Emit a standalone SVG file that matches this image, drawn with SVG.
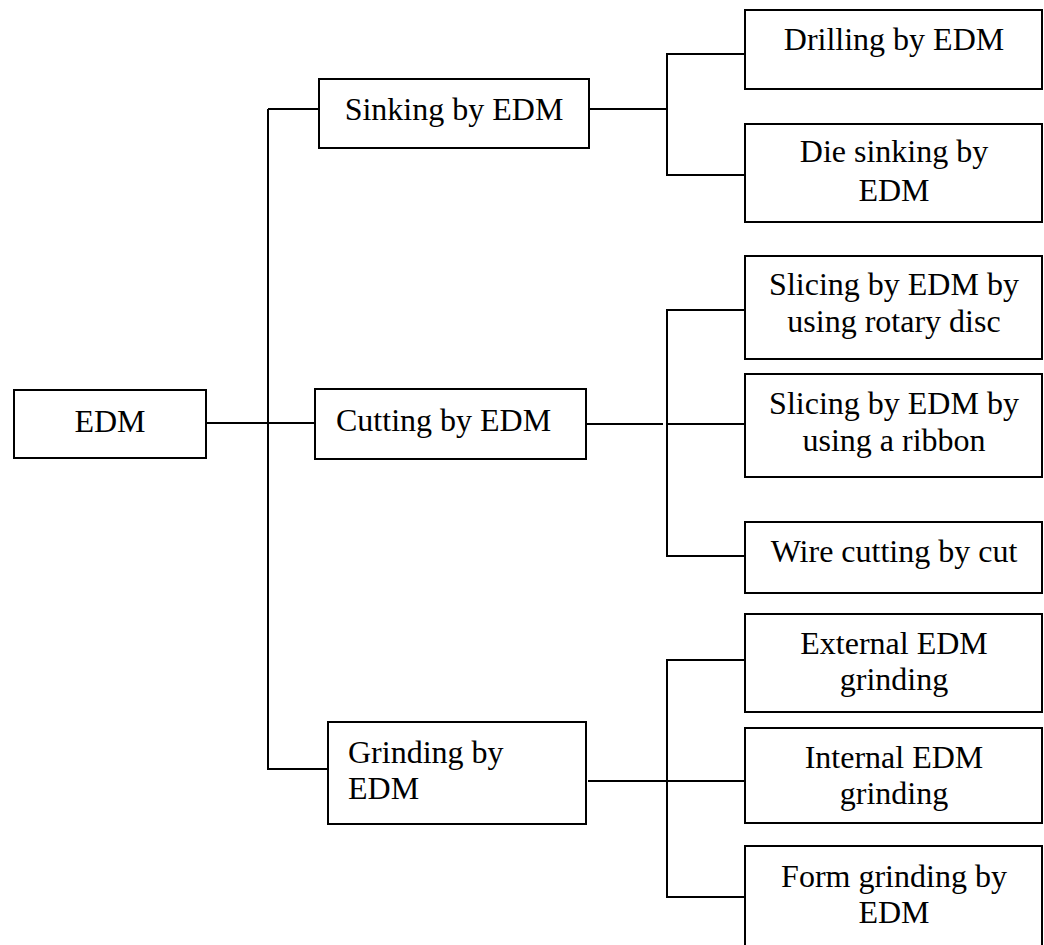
<svg xmlns="http://www.w3.org/2000/svg" width="1044" height="945" viewBox="0 0 1044 945">
<style>
.box{fill:#fff;stroke:#000;stroke-width:2}
.ln{fill:none;stroke:#000;stroke-width:2}
text{font-family:"Liberation Serif","Times New Roman",serif;font-size:32px;fill:#000}
.c{text-anchor:middle}
</style>
<rect width="1044" height="945" fill="#fff"/>
<g id="connectors">
<path class="ln" d="M206,423 H315"/>
<path class="ln" d="M268,109 V769 H333"/>
<path class="ln" d="M268,109 H319"/>
<path class="ln" d="M589,109 H667"/>
<path class="ln" d="M745,54 H667 V175 H745"/>
<path class="ln" d="M586,424 H663"/>
<path class="ln" d="M745,310 H667 V556 H745"/>
<path class="ln" d="M667,424 H745"/>
<path class="ln" d="M588,781 H745"/>
<path class="ln" d="M745,660 H667 V897 H745"/>
</g>
<g id="n-edm">
<rect class="box" x="14" y="390" width="192" height="68"/>
<text class="c" x="110" y="432">EDM</text>
</g>
<g id="n-sinking">
<rect class="box" x="319" y="79" width="270" height="69"/>
<text class="c" x="454" y="120">Sinking by EDM</text>
</g>
<g id="n-cutting">
<rect class="box" x="315" y="389" width="271" height="70"/>
<text x="336" y="431">Cutting by EDM</text>
</g>
<g id="n-grinding">
<rect class="box" x="328" y="722" width="258" height="102"/>
<text x="348" y="763">Grinding by</text>
<text x="348" y="799">EDM</text>
</g>
<g id="n-drilling">
<rect class="box" x="745" y="10" width="297" height="79"/>
<text class="c" x="894" y="50">Drilling by EDM</text>
</g>
<g id="n-die">
<rect class="box" x="745" y="124" width="297" height="98"/>
<text class="c" x="894" y="162">Die sinking by</text>
<text class="c" x="894" y="201">EDM</text>
</g>
<g id="n-rotary">
<rect class="box" x="745" y="256" width="297" height="103"/>
<text class="c" x="894" y="295">Slicing by EDM by</text>
<text class="c" x="894" y="332">using rotary disc</text>
</g>
<g id="n-ribbon">
<rect class="box" x="745" y="374" width="297" height="103"/>
<text class="c" x="894" y="414">Slicing by EDM by</text>
<text class="c" x="894" y="451">using a ribbon</text>
</g>
<g id="n-wire">
<rect class="box" x="745" y="522" width="297" height="71"/>
<text class="c" x="894" y="562">Wire cutting by cut</text>
</g>
<g id="n-external">
<rect class="box" x="745" y="614" width="297" height="98"/>
<text class="c" x="894" y="654">External EDM</text>
<text class="c" x="894" y="690">grinding</text>
</g>
<g id="n-internal">
<rect class="box" x="745" y="728" width="297" height="95"/>
<text class="c" x="894" y="768">Internal EDM</text>
<text class="c" x="894" y="804">grinding</text>
</g>
<g id="n-form">
<rect class="box" x="745" y="846" width="297" height="110"/>
<text class="c" x="894" y="887">Form grinding by</text>
<text class="c" x="894" y="923">EDM</text>
</g>
</svg>
